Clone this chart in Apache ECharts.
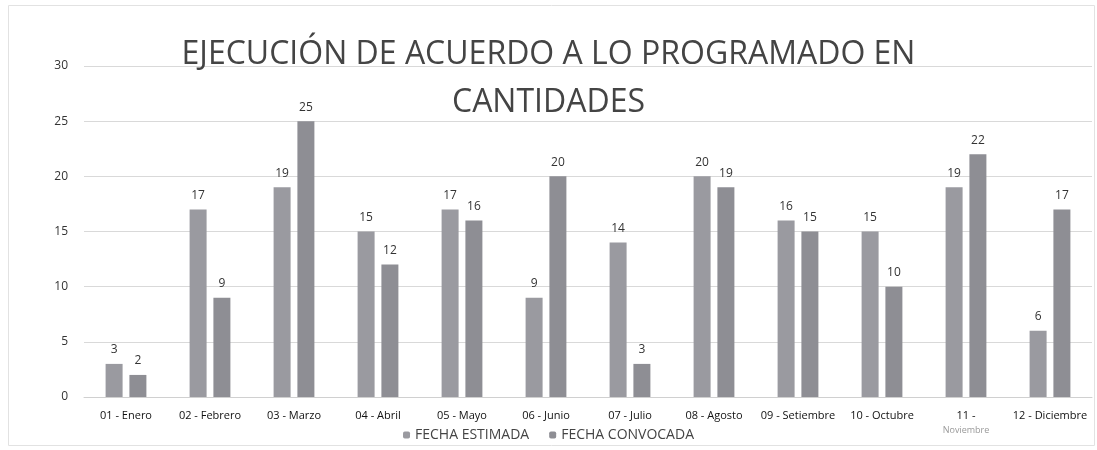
<!DOCTYPE html>
<html>
<head>
<meta charset="utf-8">
<script src="https://cdn.jsdelivr.net/npm/echarts@6/dist/echarts.min.js"></script>
<style>
  html, body { margin: 0; padding: 0; background: #fff; }
  #chart { width: 1097px; height: 450px; }
</style>
</head>
<body>
<div id="chart"></div>
<script>
    // meses
    var months = ['01 - Enero', '02 - Febrero', '03 - Marzo', '04 - Abril', '05 - Mayo', '06 - Junio',
        '07 - Julio', '08 - Agosto', '09 - Setiembre', '10 - Octubre', '11 -\nNoviembre', '12 - Diciembre'];
    var estimada = [3, 17, 19, 15, 17, 9, 14, 20, 16, 15, 19, 6];     // FECHA ESTIMADA
    var convocada = [2, 9, 25, 12, 16, 20, 3, 19, 15, 10, 22, 17];    // FECHA CONVOCADA
    var yTicks = [0, 5, 10, 15, 20, 25, 30];

    var font = '"Open Sans", "Liberation Sans", sans-serif';
    var chart = echarts.init(document.getElementById('chart'));

    var labelCfg = {show: true, position: 'top', distance: 8, color: '#333', fontSize: 12, fontFamily: font};

    chart.setOption({
        backgroundColor: '#fff',
        graphic: [{
            type: 'rect',
            shape: {x: 8.5, y: 5.5, width: 1086, height: 440},
            style: {fill: 'none', stroke: '#e2e2e2', lineWidth: 1}
        }],
        title: {
            text: 'EJECUCIÓN DE ACUERDO A LO PROGRAMADO EN\nCANTIDADES',
            left: 'center',
            top: 26,
            textStyle: {fontSize: 32, fontWeight: 'normal', color: '#444', fontFamily: font, lineHeight: 48}
        },
        legend: {
            bottom: 3,
            left: 'center',
            itemWidth: 7,
            itemHeight: 7,
            itemGap: 20,
            textStyle: {fontSize: 14, color: '#444', fontFamily: font},
            data: ['FECHA ESTIMADA', 'FECHA CONVOCADA']
        },
        grid: {left: 84, right: 5, top: 66, bottom: 53},
        xAxis: {
            type: 'category',
            data: months,
            axisLine: {lineStyle: {color: '#d0d0d0'}},
            axisTick: {show: false},
            axisLabel: {
                interval: 0, color: '#111', fontSize: 11, fontFamily: font, margin: 11, lineHeight: 15,
                formatter: function (v) {
                    if (v.indexOf('\n') >= 0) {
                        var p = v.split('\n');
                        return p[0] + '\n{l|' + p[1] + '}';
                    }
                    return v;
                },
                rich: {l: {color: '#999', fontSize: 9, fontFamily: font}}
            }
        },
        yAxis: {
            type: 'value',
            min: yTicks[0],
            max: yTicks[yTicks.length - 1],
            interval: 5,
            axisLine: {show: false},
            axisTick: {show: false},
            axisLabel: {color: '#333', fontSize: 12, fontFamily: font, margin: 16},
            splitLine: {lineStyle: {color: '#d9d9d9'}}
        },
        series: [
            {name: 'FECHA ESTIMADA', type: 'bar', data: estimada, barWidth: 17, barGap: '40%',
                itemStyle: {color: '#9a9aa0'}, label: labelCfg},
            {name: 'FECHA CONVOCADA', type: 'bar', data: convocada, barWidth: 17,
                itemStyle: {color: '#8e8e94'}, label: labelCfg}
        ]
    });
</script>
</body>
</html>
